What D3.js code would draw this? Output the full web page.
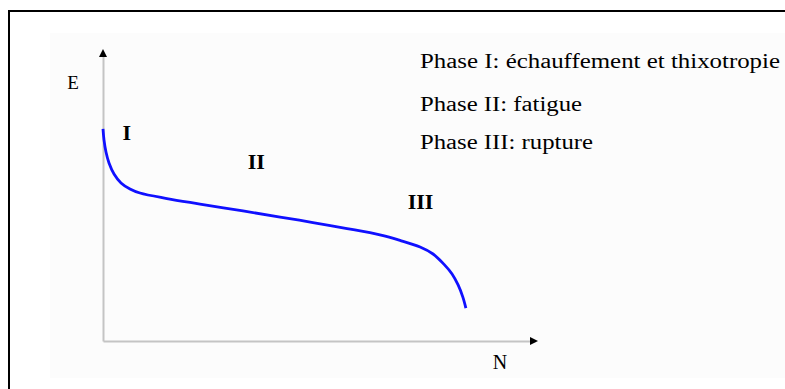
<!DOCTYPE html>
<meta charset="utf-8">
<style>
body { margin: 0; background: #fff; }
svg { display: block; }
text { font-family: "Liberation Serif", "Times New Roman", serif; fill: #000; }
</style>
<body>
<script src="https://d3js.org/d3.v7.min.js"></script>
<script>

// curve: N (cycles, 0-100) and E (modulus, 0-100)
var cycles  = [0, 0.23, 0.69, 1.39, 2.55, 4.17, 6.25, 8.56, 14.8, 22.45, 32.4, 41.0, 48.6, 56.5, 64.1, 68.75, 73.4, 76.4, 78.9, 80.8, 82.2, 83.3, 84.0];
var modulus = [73.4, 69.6, 65.4, 61.6, 57.8, 54.7, 52.6, 51.2, 49.3, 47.4, 45.0, 42.9, 41.0, 38.9, 36.7, 34.8, 32.5, 30.1, 26.6, 23.2, 19.4, 15.2, 11.4];

// phase labels on the plot
var phaseNames = ["I", "II", "III"];
var phaseN     = [5.5, 35.5, 73.5];
var phaseE     = [70, 60, 46];

// legend lines
var legendLines = ["Phase I: échauffement et thixotropie", "Phase II: fatigue", "Phase III: rupture"];
var legendWidth = [360, 162, 173];

var width = 785, height = 389;

var svg = d3.select("body").append("svg")
    .attr("width", width)
    .attr("height", height);

// frame + faint plot background
svg.append("rect")
    .attr("x", 50).attr("y", 33)
    .attr("width", 735).attr("height", 345)
    .attr("fill", "#fcfcfc");
svg.append("rect")
    .attr("x", 9).attr("y", 11)
    .attr("width", 790).attr("height", 400)
    .attr("fill", "none")
    .attr("stroke", "#000")
    .attr("stroke-width", 2);

// scales
var x = d3.scaleLinear().domain([0, 100]).range([103, 535]);
var y = d3.scaleLinear().domain([0, 100]).range([341, 52]);

// axes without ticks, grey lines
svg.append("g")
    .attr("transform", "translate(0," + y(0) + ")")
    .call(d3.axisBottom(x).tickValues([]).tickSizeOuter(0));
svg.append("g")
    .attr("transform", "translate(" + x(0) + ",0)")
    .call(d3.axisLeft(y).tickValues([]).tickSizeOuter(0));
svg.selectAll(".domain")
    .attr("stroke", "#c4c4c4")
    .attr("stroke-width", 2);

// arrow heads
svg.append("path")
    .attr("d", "M" + (x(100) + 3) + "," + y(0) + " l-8,-4 l0,8 z")
    .attr("fill", "#000");
svg.append("path")
    .attr("d", "M" + x(0) + "," + (y(100) - 3) + " l-4,8 l8,0 z")
    .attr("fill", "#000");

// the curve
var pts = cycles.map(function(n, i) { return [n, modulus[i]]; });
var line = d3.line()
    .x(function(d) { return x(d[0]); })
    .y(function(d) { return y(d[1]); })
    .curve(d3.curveCatmullRom.alpha(0.5));

svg.append("path")
    .datum(pts)
    .attr("d", line)
    .attr("fill", "none")
    .attr("stroke", "#1010ff")
    .attr("stroke-width", 2.8);

// axis names
svg.append("text")
    .attr("x", 73).attr("y", 89)
    .attr("text-anchor", "middle")
    .attr("font-size", 19)
    .text("E");
svg.append("text")
    .attr("x", 500).attr("y", 369)
    .attr("text-anchor", "middle")
    .attr("font-size", 20)
    .text("N");

// phase labels
svg.selectAll(".phase")
    .data(phaseNames)
  .enter().append("text")
    .attr("class", "phase")
    .attr("x", function(d, i) { return x(phaseN[i]); })
    .attr("y", function(d, i) { return y(phaseE[i]) + 1; })
    .attr("text-anchor", "middle")
    .attr("font-weight", "bold")
    .attr("font-size", 22)
    .text(function(d) { return d; });

// legend
svg.selectAll(".legend")
    .data(legendLines)
  .enter().append("text")
    .attr("class", "legend")
    .attr("x", 420)
    .attr("y", function(d, i) { return [68, 111, 149][i]; })
    .attr("font-size", 20)
    .attr("textLength", function(d, i) { return legendWidth[i]; })
    .attr("lengthAdjust", "spacingAndGlyphs")
    .text(function(d) { return d; });

</script>
</body>
